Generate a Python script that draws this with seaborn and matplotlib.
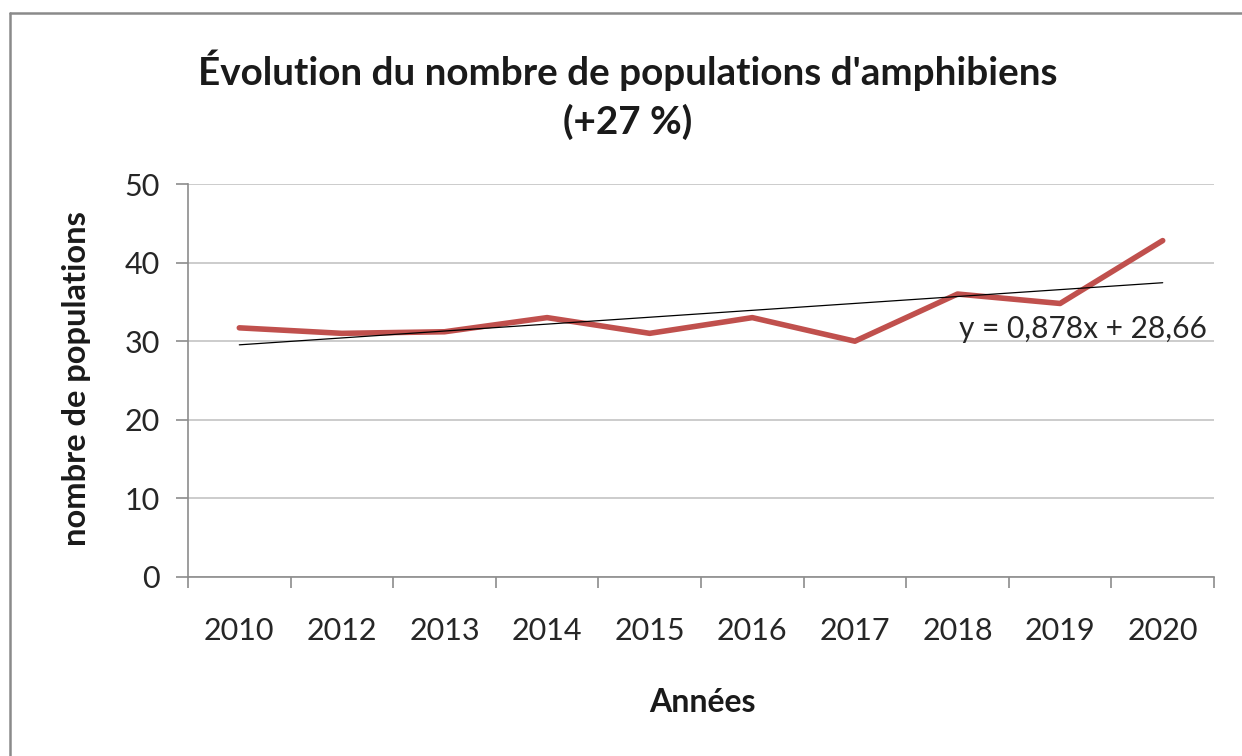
import numpy as np
import pandas as pd
import matplotlib
matplotlib.use("Agg")
import matplotlib.pyplot as plt
import seaborn as sns
from matplotlib.lines import Line2D
from matplotlib.ticker import FixedLocator, NullFormatter, FixedFormatter

# ---- data ----
years = ["2010", "2012", "2013", "2014", "2015", "2016", "2017", "2018", "2019", "2020"]
populations = [31.7, 31.0, 31.2, 33.0, 31.0, 33.0, 30.0, 36.0, 34.8, 42.8]
trend_slope = 0.878
trend_intercept = 28.66
y_ticks = [0, 10, 20, 30, 40, 50]
title_line1 = "Évolution du nombre de populations d'amphibiens"
title_line2 = "(+27 %)"
x_label = "Années"
y_label = "nombre de populations"
equation = "y = 0,878x + 28,66"

sns.set_theme(style="white")
plt.rcParams["font.family"] = ["Lato", "DejaVu Sans"]

W, H = 1242, 756
fig = plt.figure(figsize=(W / 100, H / 100), dpi=100)
fig.patch.set_facecolor("white")

ax_l, ax_r, ax_t, ax_b = 188, 1214, 184, 577
ax = fig.add_axes([ax_l / W, 1 - ax_b / H, (ax_r - ax_l) / W, (ax_b - ax_t) / H])

df = pd.DataFrame({"year": years, "pop": populations})
df["idx"] = np.arange(len(years))
sns.lineplot(data=df, x="idx", y="pop", ax=ax, color="#C0504D", linewidth=4.0,
             solid_capstyle="round", solid_joinstyle="round", zorder=3)

# linear trend line (Excel-style, x = 1..n)
xs = df["idx"].to_numpy()
trend = trend_slope * (xs + 1) + trend_intercept
sns.lineplot(x=xs, y=trend, ax=ax, color="black", linewidth=0.9, zorder=4)

ax.set_xlim(-0.5, len(years) - 0.5)
ax.set_ylim(0, 50)

# grid & spines
grid_c = "#BFBFBF"
axis_c = "#8C8C8C"
ax.set_yticks(y_ticks)
ax.yaxis.grid(True, color=grid_c, linewidth=1.1)
ax.xaxis.grid(False)
for s in ["top", "right"]:
    ax.spines[s].set_visible(False)
ax.spines["left"].set_color(axis_c)
ax.spines["bottom"].set_color(axis_c)
ax.spines["left"].set_linewidth(1.2)
ax.spines["bottom"].set_linewidth(1.2)

# x ticks: marks at category boundaries, labels at centres
ax.xaxis.set_major_locator(FixedLocator(np.arange(-0.5, len(years), 1.0)))
ax.xaxis.set_major_formatter(NullFormatter())
ax.xaxis.set_minor_locator(FixedLocator(np.arange(len(years))))
ax.xaxis.set_minor_formatter(FixedFormatter(years))
ax.tick_params(axis="x", which="major", direction="out", length=8, width=1.2,
               color=axis_c, bottom=True)
ax.tick_params(axis="x", which="minor", length=0, pad=29, labelsize=22,
               labelcolor="#262626", bottom=True)
ax.tick_params(axis="y", direction="out", length=8.6, width=1.2, color=axis_c,
               pad=11.5, labelsize=22, labelcolor="#262626", left=True)
ax.set_xlabel("")
ax.set_ylabel("")

# labels
fig.text(702 / W, 1 - 702 / H, x_label, ha="center", va="center",
         fontsize=23, fontweight="bold", color="#1a1a1a")
fig.text(77 / W, 1 - 379 / H, y_label, ha="center", va="center", rotation=90,
         fontsize=23.5, fontweight="bold", color="#1a1a1a")
fig.text(628 / W, 1 - 70 / H, title_line1, ha="center", va="center",
         fontsize=27.8, fontweight="bold", color="#1a1a1a")
fig.text(628 / W, 1 - 122 / H, title_line2, ha="center", va="center",
         fontsize=27.8, fontweight="bold", color="#1a1a1a")

# equation label
fig.text(1207 / W, 1 - 329 / H, equation, ha="right", va="center",
         fontsize=21.5, color="#262626")

# chart-area border (left and top visible)
border_c = "#8A8A8A"
fig.add_artist(Line2D([10 / W, 10 / W], [0, 1 - 13 / H], color=border_c, linewidth=1.8))
fig.add_artist(Line2D([10 / W, 1], [1 - 13 / H, 1 - 13 / H], color=border_c, linewidth=1.8))

fig.savefig("out.png", dpi=100, facecolor="white")
